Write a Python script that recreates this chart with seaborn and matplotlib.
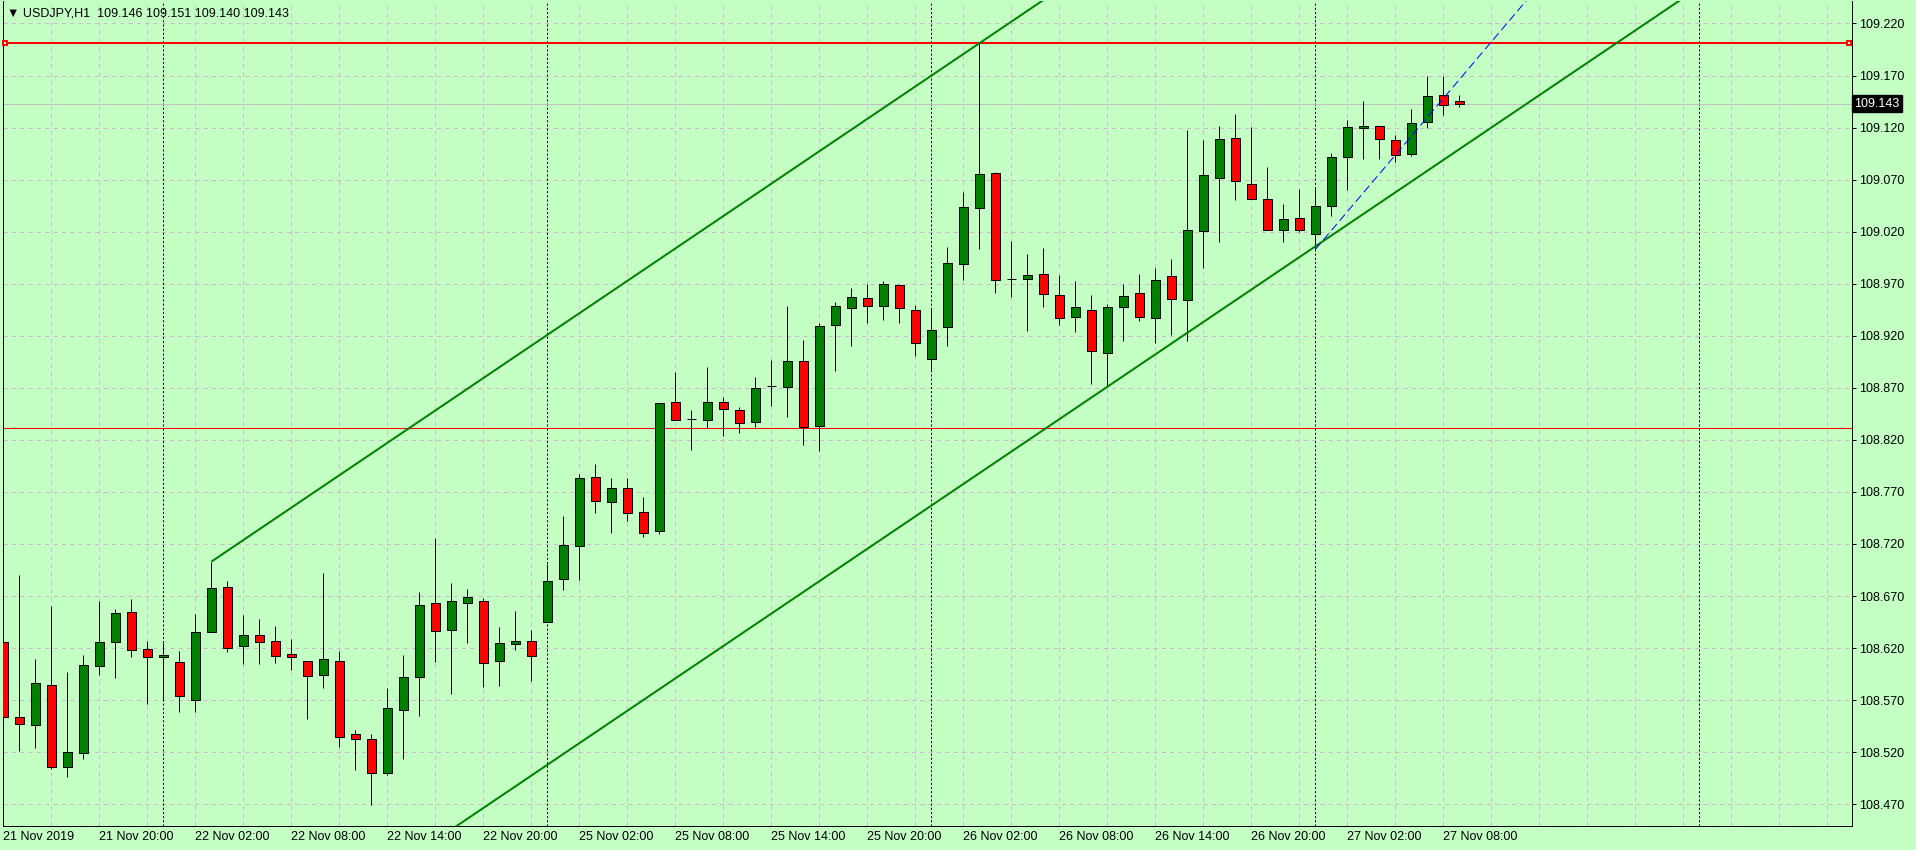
import matplotlib
matplotlib.use("Agg")
import matplotlib.pyplot as plt
import matplotlib.transforms as mtransforms
import seaborn as sns
import numpy as np
import pandas as pd

# hourly candles, bar 0 = 21 Nov 14:00
opens = [108.626, 108.554, 108.546, 108.585, 108.506, 108.519, 108.603, 108.626, 108.655, 108.619,
         108.611, 108.607, 108.570, 108.635, 108.679, 108.622, 108.633, 108.627, 108.614, 108.608,
         108.594, 108.608, 108.537, 108.533, 108.500, 108.561, 108.592, 108.663, 108.637, 108.663,
         108.665, 108.608, 108.624, 108.627, 108.645, 108.686, 108.718, 108.784, 108.760, 108.774,
         108.751, 108.732, 108.856, 108.840, 108.839, 108.856, 108.849, 108.837, 108.872, 108.871,
         108.896, 108.833, 108.930, 108.947, 108.956, 108.949, 108.969, 108.945, 108.898, 108.928,
         108.989, 109.043, 109.076, 108.975, 108.975, 108.979, 108.959, 108.938, 108.945, 108.903,
         108.948, 108.961, 108.937, 108.977, 108.954, 109.021, 109.072, 109.110, 109.066, 109.051,
         109.022, 109.033, 109.018, 109.045, 109.092, 109.120, 109.122, 109.108, 109.095, 109.125,
         109.151, 109.146]
highs = [108.629, 108.690, 108.610, 108.660, 108.597, 108.613, 108.665, 108.658, 108.667, 108.627,
         108.625, 108.617, 108.653, 108.703, 108.684, 108.652, 108.648, 108.641, 108.629, 108.608,
         108.692, 108.617, 108.541, 108.537, 108.582, 108.613, 108.674, 108.726, 108.683, 108.677,
         108.668, 108.640, 108.656, 108.637, 108.701, 108.747, 108.787, 108.797, 108.783, 108.783,
         108.765, 108.855, 108.885, 108.849, 108.890, 108.861, 108.852, 108.880, 108.897, 108.949,
         108.916, 108.932, 108.952, 108.966, 108.970, 108.973, 108.970, 108.950, 108.946, 109.005,
         109.058, 109.201, 109.077, 109.011, 108.999, 109.004, 108.978, 108.973, 108.959, 108.951,
         108.970, 108.979, 108.985, 108.994, 109.118, 109.108, 109.122, 109.133, 109.121, 109.082,
         109.047, 109.061, 109.062, 109.096, 109.127, 109.146, 109.122, 109.113, 109.138, 109.170,
         109.170, 109.151]
lows = [108.537, 108.521, 108.524, 108.504, 108.496, 108.513, 108.594, 108.591, 108.611, 108.566,
        108.570, 108.559, 108.559, 108.635, 108.616, 108.605, 108.605, 108.606, 108.599, 108.552,
        108.582, 108.525, 108.503, 108.469, 108.498, 108.513, 108.555, 108.607, 108.576, 108.625,
        108.583, 108.584, 108.618, 108.588, 108.645, 108.676, 108.685, 108.750, 108.731, 108.742,
        108.727, 108.730, 108.839, 108.810, 108.831, 108.824, 108.827, 108.832, 108.853, 108.842,
        108.815, 108.809, 108.886, 108.910, 108.932, 108.935, 108.932, 108.901, 108.887, 108.910,
        108.974, 109.003, 108.961, 108.957, 108.925, 108.948, 108.930, 108.924, 108.874, 108.872,
        108.915, 108.934, 108.913, 108.921, 108.915, 108.985, 109.010, 109.050, 109.051, 109.022,
        109.010, 109.020, 109.003, 109.035, 109.060, 109.090, 109.090, 109.087, 109.093, 109.120,
        109.132, 109.140]
closes = [108.554, 108.547, 108.586, 108.506, 108.520, 108.604, 108.626, 108.654, 108.618, 108.611,
          108.613, 108.574, 108.635, 108.678, 108.620, 108.633, 108.626, 108.612, 108.611, 108.593,
          108.610, 108.535, 108.533, 108.500, 108.562, 108.592, 108.661, 108.636, 108.665, 108.669,
          108.606, 108.625, 108.627, 108.612, 108.684, 108.719, 108.783, 108.761, 108.774, 108.750,
          108.731, 108.855, 108.839, 108.840, 108.856, 108.850, 108.836, 108.870, 108.872, 108.896,
          108.832, 108.929, 108.949, 108.957, 108.949, 108.970, 108.947, 108.913, 108.926, 108.990,
          109.044, 109.075, 108.974, 108.975, 108.978, 108.960, 108.937, 108.948, 108.905, 108.948,
          108.958, 108.938, 108.974, 108.955, 109.022, 109.074, 109.109, 109.069, 109.051, 109.022,
          109.032, 109.022, 109.045, 109.092, 109.121, 109.122, 109.109, 109.094, 109.124, 109.150,
          109.142, 109.143]

tick_bars = [0, 6, 12, 18, 24, 30, 36, 42, 48, 54, 60, 66, 72, 78, 84, 90]
tick_labels = ["21 Nov 2019", "21 Nov 20:00", "22 Nov 02:00", "22 Nov 08:00", "22 Nov 14:00",
               "22 Nov 20:00", "25 Nov 02:00", "25 Nov 08:00", "25 Nov 14:00", "25 Nov 20:00",
               "26 Nov 02:00", "26 Nov 08:00", "26 Nov 14:00", "26 Nov 20:00", "27 Nov 02:00",
               "27 Nov 08:00"]
separator_bars = [10, 34, 58, 82, 106]
price_ticks = [108.470, 108.520, 108.570, 108.620, 108.670, 108.720, 108.770, 108.820,
               108.870, 108.920, 108.970, 109.020, 109.070, 109.120, 109.170, 109.220]

resistance = 109.201
support = 108.831
last_price = 109.143

# channel anchors (bar, price) and dashed trendline anchors
channel_x = [13, 61]
channel_upper = [108.703, 109.201]
channel_lower = [108.290, 108.788]
trend_x = [82, 90]
trend_y = [109.003, 109.148]

title = "\u25bc USDJPY,H1  109.146 109.151 109.140 109.143"

df = pd.DataFrame({"bar": np.arange(len(opens)), "open": opens, "high": highs,
                   "low": lows, "close": closes})

BG = "#c4ffc4"
PX = 0.72  # one pixel in points at dpi 100

sns.set_style("white")
plt.rcParams["font.family"] = ["Liberation Sans", "DejaVu Sans"]
plt.rcParams["lines.scale_dashes"] = False

fig = plt.figure(figsize=(19.16, 8.5), dpi=100, facecolor=BG)
ax = fig.add_axes([2.5 / 1916, 24 / 850, 1849.5 / 1916, 825 / 850])
ax.set_facecolor(BG)
ax.set_xlim(-0.05, 115.54)
ax.set_ylim(108.4491, 109.2416)

# grid
ax.set_xticks(tick_bars)
ax.set_xticks(list(range(0, 116, 3)), minor=True)
ax.xaxis.remove_overlapping_locs = False
ax.grid(False)
ax.grid(True, which="minor", axis="x", color="#c8bcc8", lw=PX, linestyle=(0, (3, 3)), zorder=0)
ax.grid(True, which="major", axis="y", color="#c8bcc8", lw=PX, linestyle=(0, (3, 3)), zorder=0)
ax.set_axisbelow(True)

for b in separator_bars:
    ax.axvline(b, color="black", lw=PX, linestyle=(0, (1.5, 1.5)), zorder=1)

# horizontal levels
ax.axhline(last_price, color="#c0c0c0", lw=PX, zorder=1)
ax.axhline(resistance, color="#ff0000", lw=2 * PX, zorder=2)
ax.axhline(support, color="#ff0000", lw=PX, zorder=2)
btr = mtransforms.blended_transform_factory(ax.transAxes, ax.transData)
ax.plot([0.0012, 0.9985], [resistance, resistance], "s", ms=3.2, mfc=BG, mec="#ff0000",
        mew=1.4, transform=btr, clip_on=False, zorder=6)

# candles
up = df["close"] > df["open"]
dn = df["close"] < df["open"]
flat = df["close"] == df["open"]
ax.vlines(df["bar"], df["low"], df["high"], color="black", lw=PX, zorder=3)
for mask, col in [(up, "#008000"), (dn, "#ff0000"), (flat, "black")]:
    d = df[mask]
    ax.bar(d["bar"], d["close"] - d["open"], bottom=d["open"], width=0.6, color=col,
           edgecolor="black", linewidth=PX, zorder=4)

# channel and trend rays
def ray(xs, ys, x_end=130):
    slope = (ys[1] - ys[0]) / (xs[1] - xs[0])
    return [xs[0], x_end], [ys[0], ys[0] + slope * (x_end - xs[0])]

for ys in (channel_upper, channel_lower):
    rx, ry = ray(channel_x, ys)
    ax.plot(rx, ry, color="#008000", lw=2 * PX, zorder=5, solid_capstyle="butt")
rx, ry = ray(trend_x, trend_y)
ax.plot(rx, ry, color="#0000ff", lw=PX, linestyle=(0, (6, 3)), zorder=5)

# axes styling
for s in ["left", "bottom", "right"]:
    ax.spines[s].set_color("black")
    ax.spines[s].set_linewidth(PX)
ax.spines["top"].set_visible(False)

ax.set_xticklabels(tick_labels, ha="left", fontsize=9)
ax.tick_params(axis="x", which="major", direction="out", length=3 * PX, width=PX,
               pad=1.5, colors="black")
ax.tick_params(axis="x", which="minor", length=0)

ax.yaxis.tick_right()
ax.set_yticks(price_ticks)
ax.set_yticklabels([f"{p:.3f}" for p in price_ticks], fontsize=9)
ax.tick_params(axis="y", direction="out", length=4 * PX, width=PX, pad=2.2, colors="black")

ax.text(1.0012, last_price, f"{last_price:.3f}", transform=btr, ha="left", va="center",
        fontsize=9, color="white",
        bbox=dict(boxstyle="square,pad=0.18", fc="black", ec="black"), clip_on=False, zorder=7)

fig.text(7 / 1916, 1 - 13 / 850, title, ha="left", va="center", fontsize=9, color="black")

fig.savefig("out.png", dpi=100, facecolor=BG)
